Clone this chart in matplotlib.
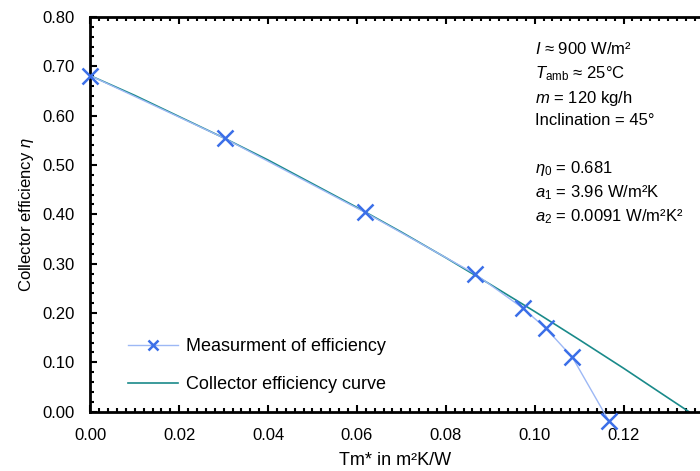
import matplotlib
matplotlib.use("Agg")
import matplotlib.pyplot as plt
from matplotlib.ticker import MultipleLocator, FormatStrFormatter

plt.rcParams['font.family'] = ['Liberation Sans', 'DejaVu Sans']
plt.rcParams['mathtext.fontset'] = 'custom'
plt.rcParams['mathtext.rm'] = 'Liberation Sans'
plt.rcParams['mathtext.it'] = 'Liberation Sans:italic'

# measured points (Tm*, efficiency)
meas_x = [0.000, 0.0302, 0.0618, 0.0866, 0.0973, 0.1025, 0.1085, 0.1167]
meas_eta = [0.681, 0.554, 0.404, 0.279, 0.210, 0.169, 0.110, -0.019]

# collector efficiency curve
curve_x = [0.000, 0.010, 0.020, 0.030, 0.040, 0.050, 0.060, 0.070,
           0.080, 0.090, 0.100, 0.110, 0.120, 0.130, 0.1347]
curve_eta = [0.681, 0.641, 0.598, 0.555, 0.510, 0.462, 0.414, 0.364,
             0.312, 0.258, 0.203, 0.146, 0.088, 0.028, 0.000]

info_lines = [r"$I$ ≈ 900 W/m²",
              r"$T_{\mathrm{amb}}$ ≈ 25°C",
              r"$m$ = 120 kg/h",
              "Inclination = 45°",
              "",
              r"$\eta_0$ = 0.681",
              r"$a_1$ = 3.96 W/m²K",
              r"$a_2$ = 0.0091 W/m²K²"]

fig = plt.figure(figsize=(7, 4.71), dpi=100)
ax = fig.add_axes([0.129, 0.126, 0.871, 0.838])

ax.plot(meas_x, meas_eta, color='#9db8f5', lw=1, marker='x', ms=11,
        mec='#3b6fe8', mew=1.8, clip_on=False, zorder=3,
        label='Measurment of efficiency')
ax.plot(curve_x, curve_eta, color='#1a8a8a', lw=1.2, zorder=2,
        label='Collector efficiency curve')

ax.set_xlim(0, 0.1372)
ax.set_ylim(0, 0.80)
ax.xaxis.set_major_locator(MultipleLocator(0.02))
ax.xaxis.set_minor_locator(MultipleLocator(0.002))
ax.yaxis.set_major_locator(MultipleLocator(0.10))
ax.yaxis.set_minor_locator(MultipleLocator(0.02))
ax.xaxis.set_major_formatter(FormatStrFormatter('%.2f'))
ax.yaxis.set_major_formatter(FormatStrFormatter('%.2f'))

ax.spines['right'].set_visible(False)
for s in ['left', 'bottom', 'top']:
    ax.spines[s].set_linewidth(2)
ax.tick_params(which='both', direction='in', top=True, right=False,
               width=1.5, labelsize=12)
ax.tick_params(axis='y', which='major', length=5, pad=11)
ax.tick_params(axis='x', which='major', length=5, pad=12)
ax.tick_params(which='minor', length=3)

ax.set_xlabel('Tm* in m²K/W', fontsize=13, labelpad=6)
ax.set_ylabel('Collector efficiency $\\eta$', fontsize=12, labelpad=5)

# spacing between the text lines (blank line for the gap)
y = 0.94
for line in info_lines:
    if line:
        ax.text(0.729, y, line, transform=ax.transAxes, fontsize=12,
                va='top', ha='left')
        y -= 0.061
    else:
        y -= 0.056

ax.legend(loc='lower left', bbox_to_anchor=(0.035, 0.005), frameon=False,
          fontsize=13, handlelength=2.8, handletextpad=0.4,
          labelspacing=1.17, markerscale=0.6)

fig.savefig('out.png', dpi=100)
